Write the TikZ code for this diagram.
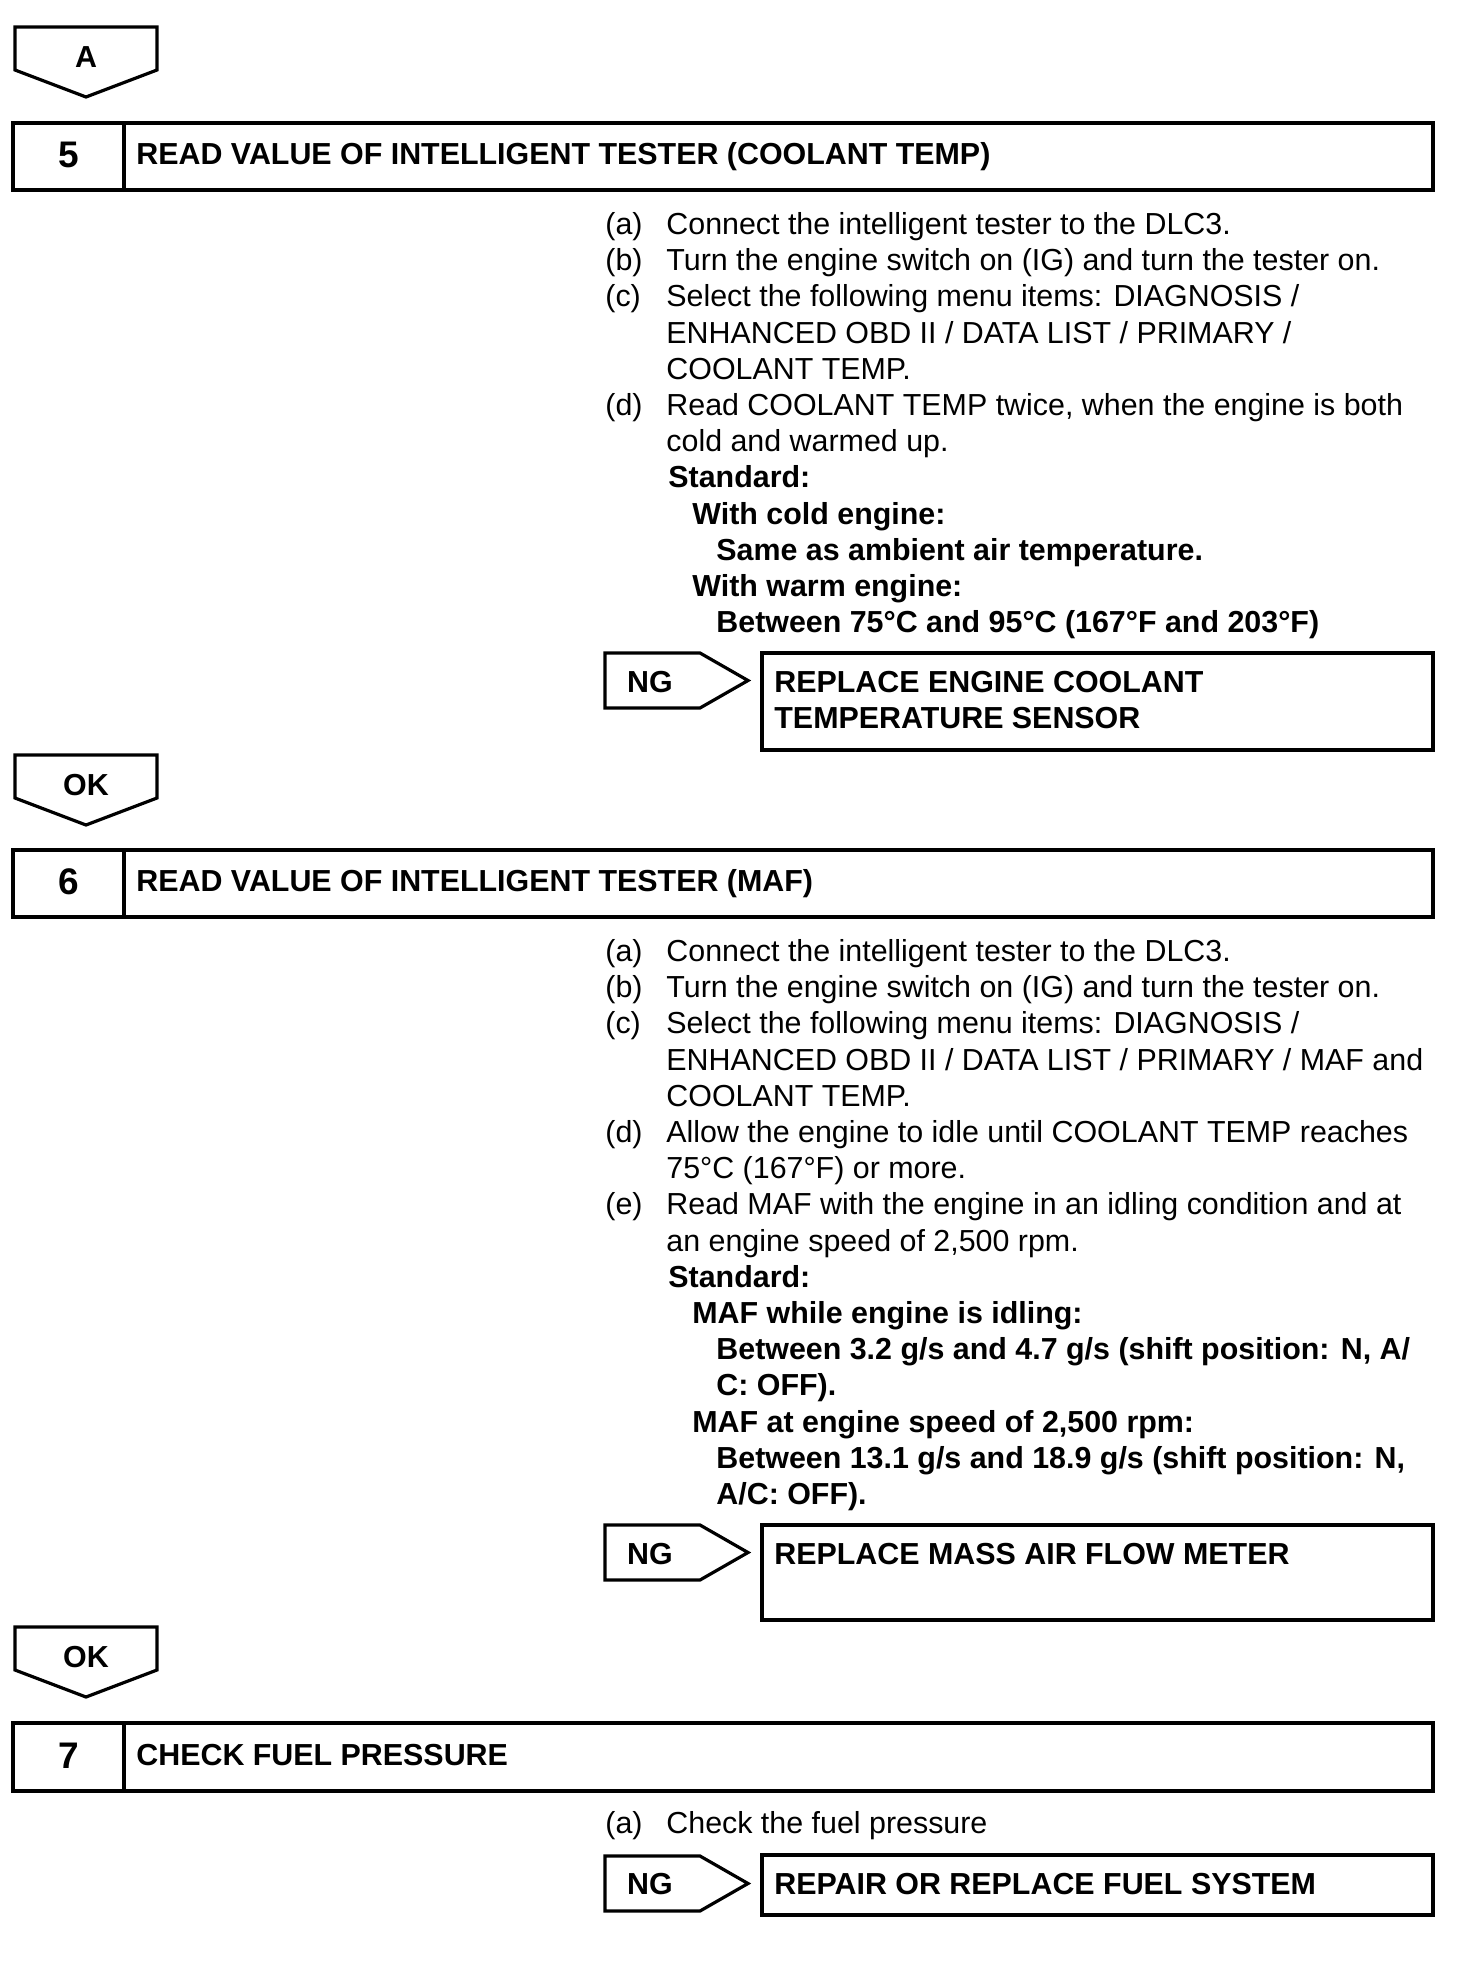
\documentclass[tikz,border=0pt]{standalone}
\usepackage{fontspec}
\setmainfont{Liberation Sans}
\begin{document}
\begin{tikzpicture}[x=0.5pt,y=-0.5pt,
  frame/.style={line width=1.6pt,line join=miter},
  txt/.style={anchor=base west,inner sep=0pt,font=\fontsize{15.2}{18.1}\selectfont},
  btxt/.style={anchor=base west,inner sep=0pt,font=\fontsize{15.2}{18.1}\selectfont\bfseries},
  num/.style={anchor=base,inner sep=0pt,font=\fontsize{18.5}{21}\selectfont\bfseries},
  mklabel/.style={anchor=base,inner sep=0pt,font=\fontsize{15.2}{18.1}\selectfont\bfseries}]
\useasboundingbox[fill=white] (0,0) rectangle (1472,1976);

% ---------- marker A ----------
\draw[frame] (15,27) -- (157,27) -- (157,70) -- (86,97) -- (15,70) -- cycle;
\node[mklabel] (mA) at (86,67) {A};

% ---------- step 5 ----------
\draw[frame] (13,123) rectangle (1433,190);
\draw[frame] (124,123) -- (124,190);
\node[num] (n5) at (68.5,167) {5};
\node[btxt] (h5) at (136,164) {READ VALUE OF INTELLIGENT TESTER (COOLANT TEMP)};

\node[txt] (s5la) at (605,234) {(a)};
\node[txt] (s5ta) at (666,234) {Connect the intelligent tester to the DLC3.};
\node[txt] (s5lb) at (605,270) {(b)};
\node[txt] (s5tb) at (666,270) {Turn the engine switch on (IG) and turn the tester on.};
\node[txt] (s5lc) at (605,306) {(c)};
\node[txt] (s5tc1) at (666,306) {Select the following menu items: DIAGNOSIS /};
\node[txt] (s5tc2) at (666,343) {ENHANCED OBD II / DATA LIST / PRIMARY /};
\node[txt] (s5tc3) at (666,379) {COOLANT TEMP.};
\node[txt] (s5ld) at (605,415) {(d)};
\node[txt] (s5td1) at (666,415) {Read COOLANT TEMP twice, when the engine is both};
\node[txt] (s5td2) at (666,451) {cold and warmed up.};
\node[btxt] (s5s) at (668,487) {Standard:};
\node[btxt] (s5s1) at (692,524) {With cold engine:};
\node[btxt] (s5s2) at (716,560) {Same as ambient air temperature.};
\node[btxt] (s5s3) at (692,596) {With warm engine:};
\node[btxt] (s5s4) at (716,632) {Between 75°C and 95°C (167°F and 203°F)};

\draw[frame] (605,653) -- (700,653) -- (748,680.5) -- (700,708) -- (605,708) -- cycle;
\node[mklabel] (ng5) at (650,692) {NG};
\draw[frame] (762,653) rectangle (1433,750);
\node[btxt] (r5a) at (774,692) {REPLACE ENGINE COOLANT};
\node[btxt] (r5b) at (774,728) {TEMPERATURE SENSOR};

% ---------- marker OK 1 ----------
\draw[frame] (15,755) -- (157,755) -- (157,798) -- (86,825) -- (15,798) -- cycle;
\node[mklabel] (ok1) at (86,795) {OK};

% ---------- step 6 ----------
\draw[frame] (13,850) rectangle (1433,917);
\draw[frame] (124,850) -- (124,917);
\node[num] (n6) at (68.5,894) {6};
\node[btxt] (h6) at (136,891) {READ VALUE OF INTELLIGENT TESTER (MAF)};

\node[txt] (s6la) at (605,961) {(a)};
\node[txt] (s6ta) at (666,961) {Connect the intelligent tester to the DLC3.};
\node[txt] (s6lb) at (605,997) {(b)};
\node[txt] (s6tb) at (666,997) {Turn the engine switch on (IG) and turn the tester on.};
\node[txt] (s6lc) at (605,1033) {(c)};
\node[txt] (s6tc1) at (666,1033) {Select the following menu items: DIAGNOSIS /};
\node[txt] (s6tc2) at (666,1070) {ENHANCED OBD II / DATA LIST / PRIMARY / MAF and};
\node[txt] (s6tc3) at (666,1106) {COOLANT TEMP.};
\node[txt] (s6ld) at (605,1142) {(d)};
\node[txt] (s6td1) at (666,1142) {Allow the engine to idle until COOLANT TEMP reaches};
\node[txt] (s6td2) at (666,1178) {75°C (167°F) or more.};
\node[txt] (s6le) at (605,1214) {(e)};
\node[txt] (s6te1) at (666,1214) {Read MAF with the engine in an idling condition and at};
\node[txt] (s6te2) at (666,1251) {an engine speed of 2,500 rpm.};
\node[btxt] (s6s) at (668,1287) {Standard:};
\node[btxt] (s6s1) at (692,1323) {MAF while engine is idling:};
\node[btxt] (s6s2) at (716,1359) {Between 3.2 g/s and 4.7 g/s (shift position: N, A/};
\node[btxt] (s6s3) at (716,1395) {C: OFF).};
\node[btxt] (s6s4) at (692,1432) {MAF at engine speed of 2,500 rpm:};
\node[btxt] (s6s5) at (716,1468) {Between 13.1 g/s and 18.9 g/s (shift position: N,};
\node[btxt] (s6s6) at (716,1504) {A/C: OFF).};

\draw[frame] (605,1525) -- (700,1525) -- (748,1552.5) -- (700,1580) -- (605,1580) -- cycle;
\node[mklabel] (ng6) at (650,1564) {NG};
\draw[frame] (762,1525) rectangle (1433,1620);
\node[btxt] (r6) at (774,1564) {REPLACE MASS AIR FLOW METER};

% ---------- marker OK 2 ----------
\draw[frame] (15,1627) -- (157,1627) -- (157,1670) -- (86,1697) -- (15,1670) -- cycle;
\node[mklabel] (ok2) at (86,1667) {OK};

% ---------- step 7 ----------
\draw[frame] (13,1723) rectangle (1433,1791);
\draw[frame] (124,1723) -- (124,1791);
\node[num] (n7) at (68.5,1768) {7};
\node[btxt] (h7) at (136,1765) {CHECK FUEL PRESSURE};

\node[txt] (s7la) at (605,1833) {(a)};
\node[txt] (s7ta) at (666,1833) {Check the fuel pressure};

\draw[frame] (605,1856) -- (700,1856) -- (748,1883.5) -- (700,1911) -- (605,1911) -- cycle;
\node[mklabel] (ng7) at (650,1894) {NG};
\draw[frame] (762,1855) rectangle (1433,1915);
\node[btxt] (r7) at (774,1894) {REPAIR OR REPLACE FUEL SYSTEM};
\end{tikzpicture}
\end{document}
